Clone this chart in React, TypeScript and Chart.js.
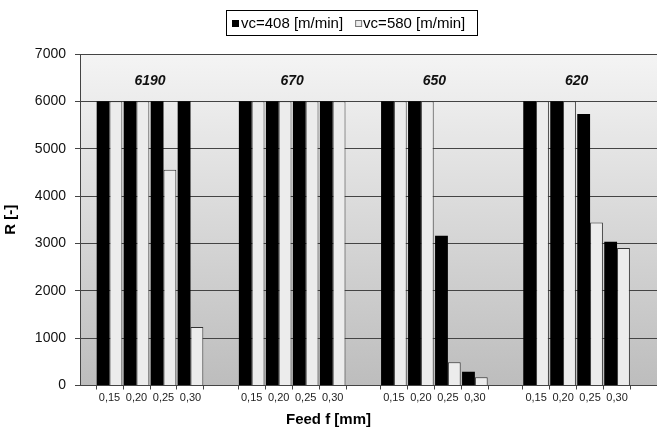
import { useEffect, useRef } from 'react';
import { Chart, registerables } from 'chart.js';

Chart.register(...registerables);

const groupLabels = ['6190', '670', '650', '620'];
const feedLabels = ['0,15', '0,20', '0,25', '0,30'];
const seriesLabels = ['vc=408 [m/min]', 'vc=580 [m/min]'];
const vc408 = [6000, 6000, 6000, 6000, 6000, 6000, 6000, 6000, 6000, 6000, 3160, 290, 6000, 6000, 5735, 3035];
const vc580 = [6000, 6000, 4555, 1235, 6000, 6000, 6000, 6000, 6000, 6000, 490, 175, 6000, 6000, 3440, 2905];
const yMin = 0;
const yMax = 7000;
const yStep = 1000;
const groupLabelValue = 6420;

const FONT = '"Liberation Sans", Arial, sans-serif';
const GROUP_GAP = 1.267;
const PERIOD = feedLabels.length + GROUP_GAP;
const X_MIN = -1.093;
const X_MAX = 20.28;
const xOf = (g: number, f: number) => g * PERIOD + f;

const tickValues: number[] = [];
const tickTexts: string[] = [];
groupLabels.forEach((_, g) => {
  for (let f = 0; f <= feedLabels.length; f++) {
    tickValues.push(xOf(g, f) - 0.5);
    tickTexts.push(f < feedLabels.length ? feedLabels[f] : '');
  }
});

const toPoints = (vals: number[]) =>
  vals.map((y, i) => ({ x: xOf(Math.floor(i / feedLabels.length), i % feedLabels.length), y }));

const backgroundPlugin = {
  id: 'plotBg',
  beforeDraw(chart: any) {
    const { ctx, chartArea } = chart;
    if (!chartArea) return;
    const g = ctx.createLinearGradient(0, chartArea.top, 0, chartArea.bottom);
    g.addColorStop(0, '#f4f4f4');
    g.addColorStop(1, '#bdbdbd');
    ctx.save();
    ctx.fillStyle = g;
    ctx.fillRect(chartArea.left, chartArea.top, chartArea.right - chartArea.left, chartArea.bottom - chartArea.top);
    ctx.restore();
  },
};

const groupLabelPlugin = {
  id: 'groupLabels',
  afterDatasetsDraw(chart: any) {
    const { ctx } = chart;
    const xs = chart.scales.x;
    const ys = chart.scales.y;
    ctx.save();
    ctx.font = `italic bold 14px ${FONT}`;
    ctx.fillStyle = '#111';
    ctx.textAlign = 'center';
    ctx.textBaseline = 'middle';
    groupLabels.forEach((lbl, g) => {
      const x = xs.getPixelForValue(xOf(g, (feedLabels.length - 1) / 2));
      const y = ys.getPixelForValue(groupLabelValue);
      ctx.fillText(lbl, x, y);
    });
    ctx.restore();
  },
};

const legendPlugin = {
  id: 'boxLegend',
  afterDraw(chart: any) {
    const { ctx } = chart;
    ctx.save();
    ctx.font = `15px ${FONT}`;
    const w1 = ctx.measureText(seriesLabels[0]).width;
    const w2 = ctx.measureText(seriesLabels[1]).width;
    const m = 7;
    const total = 6 + m + 2 + w1 + 12 + m + 1 + w2 + 12;
    const cx = 352;
    const left = Math.round(cx - total / 2) + 0.5;
    const top = 10.5;
    const h = 25;
    ctx.fillStyle = '#ffffff';
    ctx.fillRect(left, top, total, h);
    ctx.strokeStyle = '#000';
    ctx.lineWidth = 1;
    ctx.strokeRect(left, top, Math.round(total), h);
    const ds = chart.data.datasets;
    let x = left + 5.5;
    ctx.fillStyle = ds[0].backgroundColor;
    ctx.fillRect(x, 20, m, m);
    x += m + 2;
    ctx.fillStyle = '#000';
    ctx.textBaseline = 'alphabetic';
    ctx.textAlign = 'left';
    ctx.fillText(seriesLabels[0], x, 28);
    x += w1 + 12;
    ctx.fillStyle = ds[1].backgroundColor;
    ctx.fillRect(x, 20, m, m);
    ctx.strokeStyle = '#777';
    ctx.strokeRect(x + 0.5, 20.5, m - 1, m - 1);
    x += m + 1;
    ctx.fillStyle = '#000';
    ctx.fillText(seriesLabels[1], x, 28);
    ctx.restore();
  },
};

export default function App() {
  const ref = useRef<HTMLCanvasElement | null>(null);
  useEffect(() => {
    if (!ref.current) return;
    const chart = new Chart(ref.current, {
      type: 'bar',
      data: {
        datasets: [
          {
            label: seriesLabels[0],
            data: toPoints(vc408) as any,
            backgroundColor: '#000000',
            borderColor: '#000000',
            borderWidth: 0,
            categoryPercentage: 0.95,
            barPercentage: 1,
          },
          {
            label: seriesLabels[1],
            data: toPoints(vc580) as any,
            backgroundColor: '#ececec',
            borderColor: '#333333',
            borderWidth: 1,
            categoryPercentage: 0.95,
            barPercentage: 1,
          },
        ],
      },
      options: {
        animation: false,
        responsive: true,
        maintainAspectRatio: false,
        layout: { padding: { top: 54, left: 0, right: 0, bottom: 0 } },
        plugins: {
          legend: { display: false },
          tooltip: { enabled: false },
          title: {
            display: true,
            position: 'bottom',
            text: 'Feed f [mm]',
            color: '#000',
            font: { family: FONT, size: 15, weight: 'bold' },
            padding: { top: 0, bottom: 4 },
          },
        },
        scales: {
          x: {
            type: 'linear',
            min: X_MIN,
            max: X_MAX,
            bounds: 'data',
            offset: false,
            afterBuildTicks: (scale: any) => {
              scale.ticks = tickValues.map((v) => ({ value: v }));
            },
            afterFit: (scale: any) => {
              scale.height = 25.5;
              scale.paddingLeft = 0;
              scale.paddingRight = 0;
            },
            grid: {
              offset: false,
              drawOnChartArea: false,
              drawTicks: true,
              tickLength: 4,
              tickColor: '#444',
            },
            border: { display: true, color: '#444' },
            ticks: {
              autoSkip: false,
              maxRotation: 0,
              minRotation: 0,
              labelOffset: 13.5,
              padding: 2,
              color: '#222',
              font: { family: FONT, size: 11 },
              callback: (_v: any, i: number) => tickTexts[i],
            },
          },
          y: {
            min: yMin,
            max: yMax,
            afterFit: (scale: any) => {
              scale.width = 80;
            },
            grid: {
              color: '#444',
              lineWidth: 1,
              tickLength: 5,
              tickColor: '#444',
            },
            border: { display: true, color: '#444' },
            ticks: {
              stepSize: yStep,
              padding: 9,
              color: '#111',
              font: { family: FONT, size: 14 },
              callback: (v: any) => String(v),
            },
            title: {
              display: true,
              text: 'R [-]',
              color: '#000',
              font: { family: FONT, size: 15, weight: 'bold' },
              padding: { top: 2, bottom: 0 },
            },
          },
        },
      } as any,
      plugins: [backgroundPlugin, groupLabelPlugin, legendPlugin],
    });
    return () => chart.destroy();
  }, []);
  return (
    <div style={{ position: 'fixed', left: 0, top: 0, width: 657, height: 433 }}>
      <canvas ref={ref} />
    </div>
  );
}
